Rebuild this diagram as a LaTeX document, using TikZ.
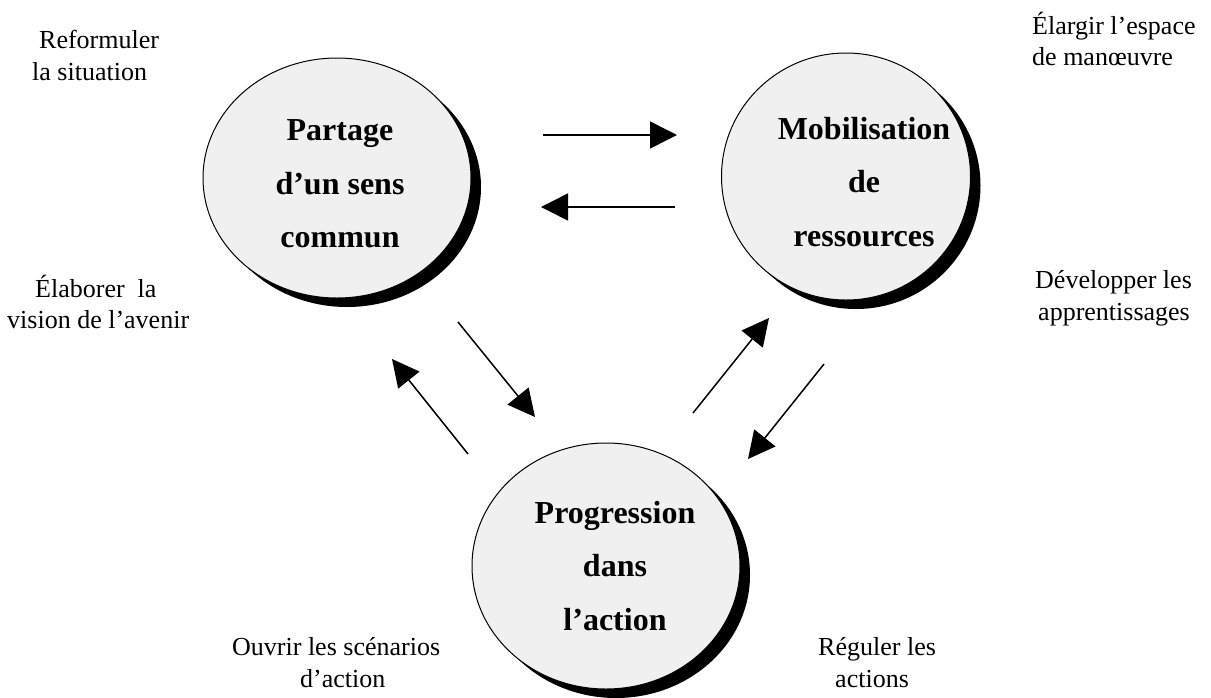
\documentclass[tikz,border=0pt]{standalone}
\usepackage{fontspec}
\setmainfont{Liberation Serif}
\usetikzlibrary{shapes.geometric,shadows,arrows.meta}
\tikzset{
  bubble/.style={ellipse, draw=black, line width=1pt, fill=black!6, inner sep=0pt,
    drop shadow={shadow xshift=10pt, shadow yshift=-9pt, opacity=1, fill=black}},
  ctext/.style={align=center, font=\fontsize{32}{53.5}\selectfont\bfseries, inner sep=0pt},
  lbl/.style={font=\fontsize{26}{31}\selectfont, inner sep=0pt, anchor=base west},
  arr/.style={line width=1.5pt, -{Triangle[length=27pt,width=27pt]}}
}
\begin{document}
\begin{tikzpicture}[x=1pt,y=-1pt]
\useasboundingbox (0,0) rectangle (1211,697);
% circles
\node[bubble, minimum width=268pt, minimum height=240pt] (ps) at (337,178) {};
\node[bubble, minimum width=249pt, minimum height=247pt] (mr) at (846,176.5) {};
\node[bubble, minimum width=268pt, minimum height=246pt] (pa) at (606,566) {};
\node[ctext] (tps) at (340,184) {Partage\\d’un sens\\commun};
\node[ctext] (tmr) at (864,182) {Mobilisation\\de\\ressources};
\node[ctext] (tpa) at (615,566) {Progression\\dans\\l’action};
% arrow end points
\coordinate (h1s) at (543,135); \coordinate (h1e) at (677,135);
\coordinate (h2s) at (675,207); \coordinate (h2e) at (541,207);
\coordinate (d1s) at (458,322); \coordinate (d1e) at (535,417);
\coordinate (d2s) at (468,454); \coordinate (d2e) at (392,359);
\coordinate (d3s) at (693,413); \coordinate (d3e) at (769,318);
\coordinate (d4s) at (824,364); \coordinate (d4e) at (748,459);
\draw[arr] (h1s) -- (h1e);
\draw[arr] (h2s) -- (h2e);
\draw[arr] (d1s) -- (d1e);
\draw[arr] (d2s) -- (d2e);
\draw[arr] (d3s) -- (d3e);
\draw[arr] (d4s) -- (d4e);
% labels
\node[lbl] (l1a) at (39,48) {Reformuler};
\node[lbl] (l1b) at (32,80) {la situation};
\node[lbl] (l2a) at (1032,34) {Élargir l’espace};
\node[lbl] (l2b) at (1032,65) {de manœuvre};
\node[lbl] (l3a) at (35,297) {Élaborer\ \ la};
\node[lbl] (l3b) at (7,328) {vision de l’avenir};
\node[lbl] (l4a) at (1035,288) {Développer les};
\node[lbl] (l4b) at (1038,320) {apprentissages};
\node[lbl] (l5a) at (232,655) {Ouvrir les scénarios};
\node[lbl] (l5b) at (300,687) {d’action};
\node[lbl] (l6a) at (818,655) {Réguler les};
\node[lbl] (l6b) at (835,687) {actions};
\end{tikzpicture}
\end{document}
